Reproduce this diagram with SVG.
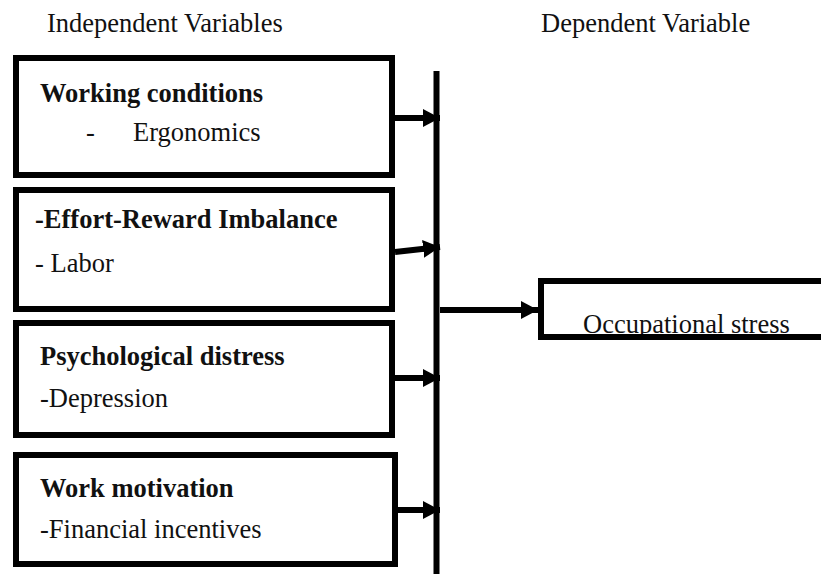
<svg xmlns="http://www.w3.org/2000/svg" width="821" height="574" viewBox="0 0 821 574">
<style>
.box{fill:none;stroke:#000;stroke-width:6}
.t{font-family:"Liberation Serif","Times New Roman",serif;font-size:26.5px;fill:#111}
.b{font-weight:bold}
.ln{stroke:#000;stroke-width:6;fill:none}
</style>
<defs>
<marker id="ah" markerUnits="userSpaceOnUse" markerWidth="18" markerHeight="18" refX="17" refY="9" orient="auto">
<path d="M0,0 L17,9 L0,18 Z" fill="#000"/>
</marker>
</defs>
<rect width="821" height="574" fill="#fff"/>
<text class="t" x="47" y="32">Independent Variables</text>
<text class="t" x="541" y="32">Dependent Variable</text>
<g id="n1">
<rect class="box" x="16" y="58" width="376" height="117"/>
<text class="t b" x="40" y="102">Working conditions</text>
<text class="t" x="86" y="141">-</text>
<text class="t" x="133" y="141">Ergonomics</text>
</g>
<g id="n2">
<rect class="box" x="16" y="190" width="376" height="119"/>
<text class="t b" x="35" y="228">-Effort-Reward Imbalance</text>
<text class="t" x="35" y="272">- Labor</text>
</g>
<g id="n3">
<rect class="box" x="16" y="323" width="376" height="112"/>
<text class="t b" x="40" y="365">Psychological distress</text>
<text class="t" x="40" y="407">-Depression</text>
</g>
<g id="n4">
<rect class="box" x="16" y="455" width="379" height="109"/>
<text class="t b" x="40" y="497">Work motivation</text>
<text class="t" x="40" y="538">-Financial incentives</text>
</g>
<g id="n5">
<text class="t" x="583" y="333">Occupational stress</text>
<rect fill="none" stroke="#000" stroke-width="6" x="541" y="281" width="300" height="56"/>
</g>
<g id="connectors">
<line class="ln" x1="436.5" y1="71" x2="436.5" y2="574"/>
<line class="ln" x1="395" y1="118" x2="440" y2="118" marker-end="url(#ah)"/>
<line class="ln" x1="395" y1="252" x2="440" y2="247" marker-end="url(#ah)"/>
<line class="ln" x1="395" y1="378" x2="440" y2="378" marker-end="url(#ah)"/>
<line class="ln" x1="398" y1="510" x2="440" y2="510" marker-end="url(#ah)"/>
<line class="ln" x1="440" y1="310" x2="538" y2="310" marker-end="url(#ah)"/>
</g>
</svg>
